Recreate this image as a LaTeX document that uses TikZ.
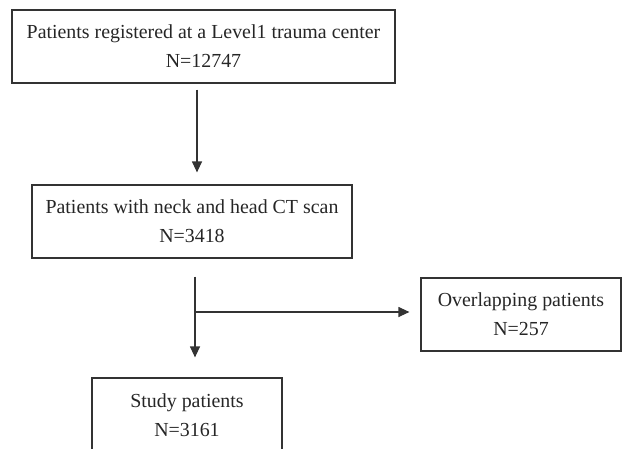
\documentclass[tikz,border=0pt]{standalone}
\usepackage{fontspec}
\setmainfont{Liberation Serif}
\usetikzlibrary{arrows.meta,calc}
\begin{document}
\begin{tikzpicture}[x=1pt,y=-1pt,
  box/.style={draw=black!80,line width=1.2pt,text=black!85,align=center,inner sep=0pt,
    font=\fontsize{19.9}{29}\selectfont},
  arr/.style={draw=black!80,line width=1.2pt,-{Triangle[length=11pt,width=10pt]}},
  ln/.style={draw=black!80,line width=1.2pt}]
\useasboundingbox (0,0) rectangle (627,448);
\clip (0,0) rectangle (627,448);
\node[box,minimum width=383pt,minimum height=73pt] (a) at (203.5,46.5) {Patients registered at a Level1 trauma center\\N=12747};
\node[box,minimum width=320pt,minimum height=73pt] (b) at (192,221.5) {Patients with neck and head CT scan\\N=3418};
\node[box,minimum width=200pt,minimum height=73pt] (c) at (521,314.5) {Overlapping patients\\N=257};
\node[box,minimum width=190pt,minimum height=74pt] (d) at (187,415) {Study patients\\N=3161};
\coordinate (spine1) at (197,0);
\coordinate (spine2) at (195,0);
\coordinate (junction) at (195,312);
\draw[arr,shorten <=6pt,shorten >=12pt] (a.south -| spine1) -- (b.north -| spine1);
\draw[ln,shorten <=18pt] (b.south -| spine2) -- (junction);
\draw[arr,shorten >=20pt] (junction) -- (d.north -| spine2);
\draw[arr,shorten >=11pt] (junction) -- (c.west |- junction);
\end{tikzpicture}
\end{document}
